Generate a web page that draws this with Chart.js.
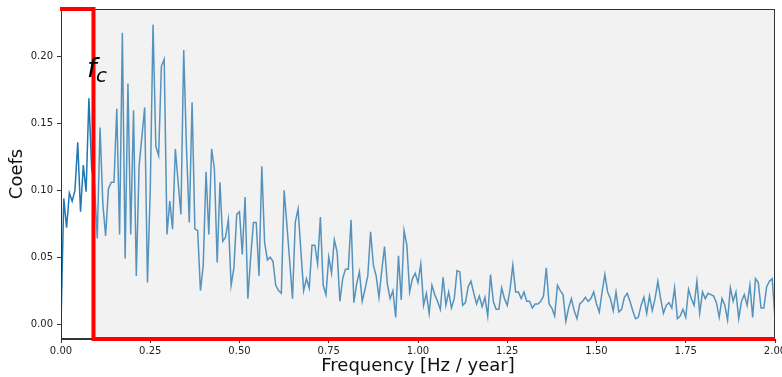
<!DOCTYPE html>
<html>
<head>
<meta charset="utf-8">
<script src="https://cdn.jsdelivr.net/npm/chart.js@4.4.0/dist/chart.umd.min.js"></script>
<style>
  html, body { margin: 0; padding: 0; background: #fff; }
</style>
</head>
<body>
<canvas id="coefChart" width="782" height="377"></canvas>
<script>
// spectrum coefficients, one per frequency bin (step 1/128 Hz/year)
const freqStep = 1 / 128;
const coefs = [
  0.000, 0.094, 0.072, 0.098, 0.092, 0.100, 0.136, 0.084, 0.119, 0.099,
  0.169, 0.116, 0.105, 0.064, 0.147, 0.090, 0.066, 0.101, 0.106, 0.106,
  0.161, 0.067, 0.218, 0.049, 0.180, 0.067, 0.160, 0.036, 0.118, 0.140,
  0.162, 0.031, 0.100, 0.224, 0.133, 0.126, 0.193, 0.198, 0.067, 0.092,
  0.071, 0.131, 0.106, 0.082, 0.205, 0.131, 0.076, 0.166, 0.071, 0.070,
  0.025, 0.044, 0.114, 0.067, 0.131, 0.116, 0.046, 0.106, 0.062, 0.065,
  0.078, 0.029, 0.042, 0.082, 0.084, 0.052, 0.095, 0.019, 0.050, 0.076,
  0.076, 0.036, 0.118, 0.061, 0.048, 0.050, 0.047, 0.029, 0.025, 0.023,
  0.100, 0.074, 0.047, 0.019, 0.076, 0.086, 0.055, 0.025, 0.034, 0.027,
  0.059, 0.059, 0.045, 0.080, 0.029, 0.022, 0.050, 0.038, 0.063, 0.054,
  0.017, 0.034, 0.041, 0.041, 0.078, 0.016, 0.030, 0.039, 0.017, 0.026,
  0.036, 0.069, 0.044, 0.036, 0.020, 0.040, 0.058, 0.030, 0.019, 0.025,
  0.005, 0.051, 0.018, 0.070, 0.059, 0.024, 0.034, 0.038, 0.031, 0.045,
  0.014, 0.023, 0.008, 0.029, 0.022, 0.017, 0.011, 0.035, 0.014, 0.024,
  0.012, 0.019, 0.040, 0.039, 0.014, 0.016, 0.028, 0.032, 0.023, 0.015,
  0.021, 0.013, 0.020, 0.006, 0.037, 0.017, 0.011, 0.011, 0.027, 0.019,
  0.014, 0.026, 0.044, 0.024, 0.024, 0.019, 0.024, 0.017, 0.017, 0.012,
  0.015, 0.015, 0.017, 0.021, 0.042, 0.015, 0.012, 0.006, 0.029, 0.025,
  0.022, 0.002, 0.012, 0.019, 0.010, 0.004, 0.015, 0.017, 0.020, 0.017,
  0.019, 0.024, 0.015, 0.009, 0.024, 0.037, 0.024, 0.019, 0.010, 0.024,
  0.009, 0.011, 0.020, 0.023, 0.017, 0.010, 0.004, 0.005, 0.014, 0.020,
  0.008, 0.021, 0.010, 0.019, 0.032, 0.019, 0.008, 0.014, 0.016, 0.012,
  0.027, 0.004, 0.006, 0.011, 0.005, 0.026, 0.019, 0.014, 0.032, 0.008,
  0.024, 0.019, 0.023, 0.022, 0.021, 0.016, 0.005, 0.019, 0.014, 0.003,
  0.027, 0.017, 0.024, 0.004, 0.017, 0.022, 0.014, 0.029, 0.005, 0.034,
  0.031, 0.012, 0.012, 0.028, 0.032, 0.034, 0.004
];
const xTicks = [0, 0.25, 0.5, 0.75, 1, 1.25, 1.5, 1.75, 2];
const yTicks = [0, 0.05, 0.10, 0.15, 0.20];
const cutoffFreq = 0.091;

Chart.defaults.font.family = '"DejaVu Sans", sans-serif';

const points = coefs.map((c, i) => ({ x: i * freqStep, y: c }));

// grey shaded band past the cutoff, red outline and the f_c label
const cutoffBand = {
  id: 'cutoffBand',
  afterDatasetsDraw(chart) {
    const { ctx, chartArea: area, scales } = chart;
    const xc = scales.x.getPixelForValue(cutoffFreq);
    ctx.save();
    ctx.fillStyle = 'rgba(211, 211, 211, 0.3)';
    ctx.fillRect(xc, area.top, area.right - xc, area.bottom - area.top);

    ctx.strokeStyle = '#333';
    ctx.lineWidth = 1;
    ctx.strokeRect(area.left + 0.5, area.top + 0.5, area.right - area.left - 1, area.bottom - area.top - 1);

    ctx.strokeStyle = '#ff0000';
    ctx.lineWidth = 4;
    ctx.lineJoin = 'miter';
    ctx.beginPath();
    ctx.moveTo(area.left - 1, area.top);
    ctx.lineTo(xc, area.top);
    ctx.lineTo(xc, area.bottom);
    ctx.lineTo(area.right, area.bottom);
    ctx.stroke();

    ctx.fillStyle = '#000';
    ctx.textBaseline = 'alphabetic';
    ctx.font = 'italic 27px "DejaVu Sans"';
    ctx.fillText('f', 87, 77);
    ctx.font = 'italic 20px "DejaVu Sans"';
    ctx.fillText('c', 96, 82);
    ctx.restore();
  }
};

new Chart(document.getElementById('coefChart'), {
  type: 'line',
  data: {
    datasets: [{
      data: points,
      borderColor: '#1f77b4',
      borderWidth: 1.5,
      pointRadius: 0,
      tension: 0,
      fill: false
    }]
  },
  options: {
    responsive: false,
    animation: false,
    devicePixelRatio: 1,
    layout: { padding: { top: 9, right: 7, left: 0, bottom: 0 } },
    plugins: {
      legend: { display: false },
      tooltip: { enabled: false }
    },
    scales: {
      x: {
        type: 'linear',
        min: 0,
        max: 2,
        afterBuildTicks: axis => { axis.ticks = xTicks.map(v => ({ value: v })); },
        afterFit: axis => { axis.height = 38; axis.paddingLeft = 0; axis.paddingRight = 0; },
        ticks: {
          callback: v => Number(v).toFixed(2),
          font: { size: 10 },
          color: '#222',
          padding: 2,
          maxRotation: 0,
          autoSkip: false
        },
        grid: { drawOnChartArea: false, color: '#333', tickLength: 4 },
        border: { color: '#333' },
        title: {
          display: true,
          text: 'Frequency [Hz / year]',
          font: { size: 18 },
          color: '#111',
          padding: { top: 0, bottom: 0 }
        }
      },
      y: {
        min: -0.0112,
        max: 0.2357,
        afterBuildTicks: axis => { axis.ticks = yTicks.map(v => ({ value: v })); },
        afterFit: axis => { axis.width = 61; axis.paddingTop = 0; axis.paddingBottom = 0; },
        ticks: {
          callback: v => Number(v).toFixed(2),
          font: { size: 10 },
          color: '#222',
          padding: 4
        },
        grid: { drawOnChartArea: false, color: '#333', tickLength: 4 },
        border: { color: '#333' },
        title: {
          display: true,
          text: 'Coefs',
          font: { size: 18 },
          color: '#111',
          padding: { top: 7, bottom: 0 }
        }
      }
    }
  },
  plugins: [cutoffBand]
});
</script>
</body>
</html>
